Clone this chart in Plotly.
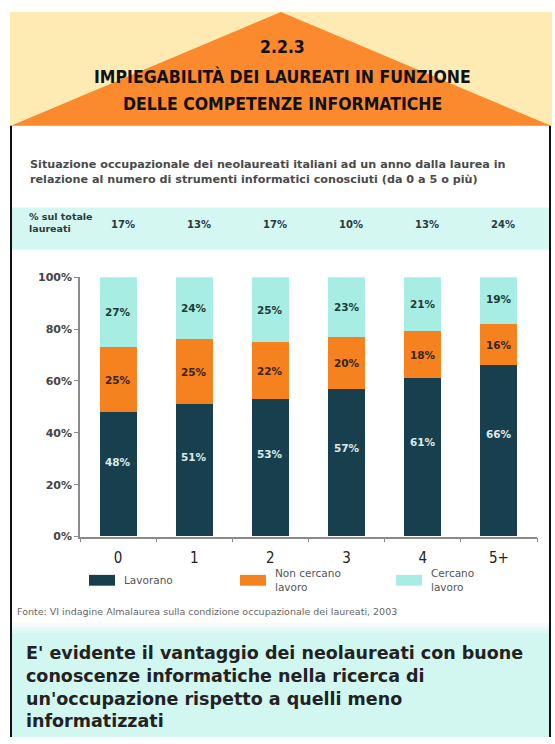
import plotly.graph_objects as go

# ---------------- data ----------------
categories = ["0", "1", "2", "3", "4", "5+"]
share_of_total = [17, 13, 17, 10, 13, 24]
lavorano = [48, 51, 53, 57, 61, 66]
non_cercano = [25, 25, 22, 20, 18, 16]
cercano = [27, 24, 25, 23, 21, 19]
series_names = ["Lavorano", "Non cercano<br>lavoro", "Cercano<br>lavoro"]
y_ticks = [0, 20, 40, 60, 80, 100]

title_lines = ["2.2.3", "IMPIEGABILITÀ DEI LAUREATI IN FUNZIONE", "DELLE COMPETENZE INFORMATICHE"]
subtitle = ("Situazione occupazionale dei neolaureati italiani ad un anno dalla laurea in<br>"
            "relazione al numero di strumenti informatici conosciuti (da 0 a 5 o più)")
share_label = "% sul totale<br>laureati"
source = "Fonte: VI indagine Almalaurea sulla condizione occupazionale dei laureati, 2003"
conclusion = ("E' evidente il vantaggio dei neolaureati con buone<br>"
              "conoscenze informatiche nella ricerca di<br>"
              "un'occupazione rispetto a quelli meno<br>"
              "informatizzati")

# ---------------- style ----------------
W, H = 555, 744
C_DARK = "#173F4D"
C_ORANGE = "#F5821F"
C_CYAN = "#A8EDE4"
colors = [C_DARK, C_ORANGE, C_CYAN]
COND = "DejaVu Sans Condensed, sans-serif"
WIDE = "DejaVu Sans, Verdana, sans-serif"


def px(x):
    return x / W


def py(y):
    return 1 - y / H


fig = go.Figure()
for name, vals, col in zip(series_names, [lavorano, non_cercano, cercano], colors):
    fig.add_trace(go.Bar(x=categories, y=vals, name=name, marker_color=col,
                         marker_line_width=0, width=0.485, showlegend=False,
                         hoverinfo="x+y"))

shapes = []
annotations = []

# header banner
shapes.append(dict(type="rect", xref="paper", yref="paper", x0=px(10), x1=px(552),
                   y0=py(122), y1=py(6), fillcolor="#FEEBB4", line_width=0, layer="below"))
shapes.append(dict(type="path", xref="paper", yref="paper",
                   path=f"M {px(11)},{py(122)} L {px(281)},{py(6)} L {px(551)},{py(122)} Z",
                   fillcolor="#FB8A2E", line_width=0, layer="below"))
for txt, yy in zip(title_lines, [42, 72, 100]):
    annotations.append(dict(text=f"<b>{txt}</b>", xref="paper", yref="paper", x=px(282), y=py(yy),
                            xanchor="center", yanchor="middle", showarrow=False,
                            font=dict(family=COND, size=17.5, color="#111111")))

# teal band
shapes.append(dict(type="rect", xref="paper", yref="paper", x0=px(11), x1=px(550),
                   y0=py(248), y1=py(205), fillcolor="#D5F7F1", line_width=0, layer="below"))
# bottom box with soft fade
shapes.append(dict(type="rect", xref="paper", yref="paper", x0=px(11), x1=px(550),
                   y0=0, y1=py(638), fillcolor="#D2F6F0", line_width=0, layer="below"))
for i, (a, b) in enumerate([(628, 632), (632, 635), (635, 638)]):
    shapes.append(dict(type="rect", xref="paper", yref="paper", x0=px(11), x1=px(550),
                       y0=py(b), y1=py(a), fillcolor="#D2F6F0", opacity=0.25 * (i + 1),
                       line_width=0, layer="below"))
# frame lines
for xx in [11, 550]:
    shapes.append(dict(type="line", xref="paper", yref="paper", x0=px(xx), x1=px(xx),
                       y0=0, y1=py(122), line=dict(color="#111111", width=2)))

# subtitle
annotations.append(dict(text=subtitle, xref="paper", yref="paper", x=px(28), y=py(169),
                        xanchor="left", yanchor="middle", align="left", showarrow=False,
                        font=dict(family=WIDE, size=11.2, color="#4A4A4A", weight="bold")))
# share row
annotations.append(dict(text=f"<b>{share_label}</b>", xref="paper", yref="paper", x=px(27), y=py(220),
                        xanchor="left", yanchor="middle", align="left", showarrow=False,
                        font=dict(family=WIDE, size=9.5, color="#2A3A3A")))
for cat, s in zip(categories, share_of_total):
    annotations.append(dict(text=f"<b>{s}%</b>", xref="x", yref="paper", x=cat, y=py(222),
                            xshift=4.5, xanchor="center", yanchor="middle", showarrow=False,
                            font=dict(family=WIDE, size=10, color="#2A3A3A")))

# bar value labels
for cat, a, b, c in zip(categories, lavorano, non_cercano, cercano):
    annotations.append(dict(text=f"<b>{a}%</b>", xref="x", yref="y", x=cat, y=a * 0.6,
                            showarrow=False, font=dict(family=WIDE, size=10.5, color="#DCEBEA")))
    annotations.append(dict(text=f"<b>{b}%</b>", xref="x", yref="y", x=cat, y=a + b / 2,
                            showarrow=False, font=dict(family=WIDE, size=10.5, color="#3A2410")))
    annotations.append(dict(text=f"<b>{c}%</b>", xref="x", yref="y", x=cat,
                            y=min(a + b + c / 2, 100 - (100 - a - b) / 2 + 1),
                            showarrow=False, font=dict(family=WIDE, size=10.5, color="#1F3B38")))

# legend (manual)
leg_x = [89, 240, 396]
for name, col, lx in zip(series_names, colors, leg_x):
    shapes.append(dict(type="rect", xref="paper", yref="paper", x0=px(lx), x1=px(lx + 26),
                       y0=py(590), y1=py(579), fillcolor=col, line_width=0))
    annotations.append(dict(text=name, xref="paper", yref="paper", x=px(lx + 33), y=py(584),
                            xanchor="left", yanchor="middle", align="left", showarrow=False,
                            font=dict(family=WIDE, size=10.5, color="#555555")))

# source
annotations.append(dict(text=source, xref="paper", yref="paper", x=px(15), y=py(616),
                        xanchor="left", yanchor="middle", showarrow=False,
                        font=dict(family=WIDE, size=9.5, color="#666666")))
# conclusion
annotations.append(dict(text=f"<b>{conclusion}</b>", xref="paper", yref="paper", x=px(24), y=py(693),
                        xanchor="left", yanchor="middle", align="left", showarrow=False,
                        font=dict(family=WIDE, size=17.5, color="#222222")))

fig.update_layout(
    width=W, height=H, margin=dict(l=0, r=0, t=0, b=0),
    paper_bgcolor="white", plot_bgcolor="rgba(0,0,0,0)",
    barmode="stack", bargap=0,
    shapes=shapes, annotations=annotations,
    xaxis=dict(domain=[px(80), px(537)], range=[-0.5, 5.5], type="category",
               showline=True, linecolor="#8A8A8A", linewidth=1.5,
               ticks="outside", tickson="boundaries", ticklen=4, tickcolor="#8A8A8A",
               showgrid=False, zeroline=False, ticklabelstandoff=7,
               tickfont=dict(family=COND, size=15, color="#222222")),
    yaxis=dict(domain=[py(540), py(276)], range=[0, 100],
               tickvals=y_ticks, ticktext=[f"<b>{v}%</b>" for v in y_ticks],
               showline=True, linecolor="#8A8A8A", linewidth=1.5,
               ticks="outside", ticklen=4, tickcolor="#8A8A8A",
               showgrid=False, zeroline=False,
               tickfont=dict(family=WIDE, size=11, color="#444444")),
)

fig.write_html("out.html", config={"displayModeBar": False},
               post_script="document.body.style.margin='0';")
